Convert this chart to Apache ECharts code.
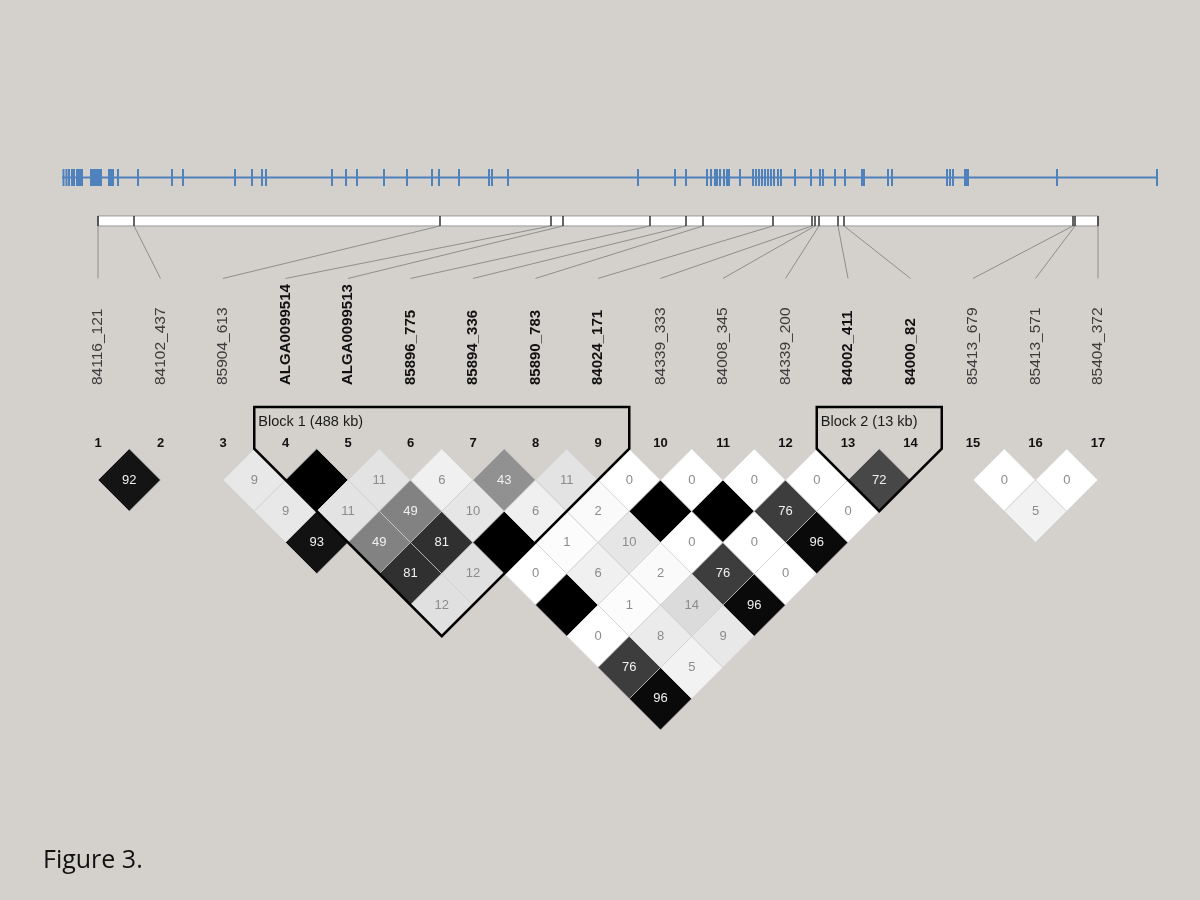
<!DOCTYPE html>
<html>
<head>
<meta charset="utf-8">
<script src="https://cdn.jsdelivr.net/npm/echarts@6/dist/echarts.min.js"></script>
<style>
html,body{margin:0;padding:0;background:#d4d1cc;}
#chart{width:1200px;height:900px;}
</style>
</head>
<body>
<div id="chart"></div>
<script>
// ---------- DATA ----------
// genomic track: relative positions of all SNPs along the region (0 .. trackEnd)
const trackStart = 0;
const trackEnd = 1096;
const trackPos = [1.5,4.5,7,10,12,15,17,18.5,20,29,31,33,35,37,39,47,49,51,56,76,110,121,173,190,200,204,
  270,284,295,322,345,370,377,397,427,430,446,576,613,624,645,649,653,655,658,662,665,667,678,
  691,694,697,700,703,706,709,712,716,719,733,749,758,761,773,783,800,802,826,830,885,888,891,903,904,906,995,1095];
const trackHighlight = [641];

// markers
const markerNames = ['84116_121','84102_437','85904_613','ALGA0099514','ALGA0099513','85896_775','85894_336',
  '85890_783','84024_171','84339_333','84008_345','84339_200','84002_411','84000_82','85413_679','85413_571','85404_372'];
const markerInBlock = [0,0,0,1,1,1,1,1,1,0,0,0,1,1,0,0,0];
// relative physical position of each marker along the map bar (0 .. 1000)
const markerPhys = [0,36,342,453,465,552,588,605,675,714,717,721,740,746,975,977,1000];

// LD cells: [marker i, marker j, r2 x 100]  (100 = complete, no number shown)
const ldCells = [
  [1,2,92],
  [3,4,9],[3,5,9],[3,6,93],
  [4,5,100],[4,6,11],[4,7,49],[4,8,81],[4,9,12],
  [5,6,11],[5,7,49],[5,8,81],[5,9,12],
  [6,7,6],[6,8,10],[6,9,100],[6,10,0],[6,11,100],[6,12,0],[6,13,76],[6,14,96],
  [7,8,43],[7,9,6],[7,10,1],[7,11,6],[7,12,1],[7,13,8],[7,14,5],
  [8,9,11],[8,10,2],[8,11,10],[8,12,2],[8,13,14],[8,14,9],
  [9,10,0],[9,11,100],[9,12,0],[9,13,76],[9,14,96],
  [10,11,0],[10,12,100],[10,13,0],[10,14,0],
  [11,12,0],[11,13,76],[11,14,96],
  [12,13,0],[12,14,0],
  [13,14,72],
  [15,16,0],[15,17,5],[16,17,0]
];

// haplotype blocks
const blockStarts = [4,13];
const blockEnds = [9,14];
const blockLabels = ['Block 1 (488 kb)','Block 2 (13 kb)'];

const caption = 'Figure 3.';

// ---------- LAYOUT CONSTANTS (row units of LD grid) ----------
const BAR_TOP = -7.45, BAR_BOT = -7.13;
const CONN_END = -5.45;
const NAME_BASE = -2.04;
const NUM_ROW = -0.17;
const BLOCK_TOP = -1.336;
const BLOCK_LABEL_ROW = -0.86;

const nMarkers = markerNames.length;
const physToIdx = p => 1 + p * (nMarkers - 1) / 1000;

const chart = echarts.init(document.getElementById('chart'), null, {renderer:'canvas'});

const markerIdx = markerNames.map((_, k) => k + 1);

const option = {
  backgroundColor: '#d4d1cc',
  animation: false,
  title: {
    text: caption, left: 38, top: 843,
    textStyle: {fontFamily: 'Open Sans', fontSize: 25, fontWeight: 'normal', color: '#111'}
  },
  grid: [
    {left: 62, width: 1096, top: 170, height: 15},
    {left: 98, width: 1000, top: 198.75, height: 562.5}
  ],
  xAxis: [
    {gridIndex: 0, type: 'value', min: trackStart, max: trackEnd, show: false},
    {gridIndex: 1, type: 'value', min: 1, max: 17, show: false}
  ],
  yAxis: [
    {gridIndex: 0, type: 'value', min: 0, max: 1, show: false},
    {gridIndex: 1, type: 'value', min: -8, max: 10, inverse: true, show: false}
  ],
  series: [
    // genomic track baseline
    {
      type: 'line', xAxisIndex: 0, yAxisIndex: 0, silent: true, symbol: 'none',
      data: [[trackStart, 0.5], [trackEnd, 0.5]],
      lineStyle: {color: '#4f81bd', width: 2}
    },
    // track ticks
    {
      type: 'custom', xAxisIndex: 0, yAxisIndex: 0, silent: true,
      data: trackPos.map(p => [p, trackHighlight.indexOf(p) >= 0 ? 1 : 0]),
      renderItem: function (params, api) {
        const x = api.value(0);
        const hl = api.value(1);
        const a = api.coord([x, 0]), b = api.coord([x, 1]);
        return {type: 'line', shape: {x1: a[0], y1: a[1] + 1, x2: b[0], y2: b[1] - 1},
          style: {stroke: hl ? '#e3262d' : '#4f81bd', lineWidth: 2}};
      }
    },
    // map bar
    {
      type: 'custom', xAxisIndex: 1, yAxisIndex: 1, silent: true,
      data: [[1, BAR_TOP]],
      renderItem: function (params, api) {
        const a = api.coord([1, BAR_TOP]), b = api.coord([nMarkers, BAR_BOT]);
        return {type: 'rect', shape: {x: a[0], y: a[1], width: b[0] - a[0], height: b[1] - a[1]},
          style: {fill: '#ffffff', stroke: '#9a9a9a', lineWidth: 1}};
      }
    },
    // bar ticks + connectors
    {
      type: 'custom', xAxisIndex: 1, yAxisIndex: 1, silent: true,
      data: markerPhys.map((p, k) => [physToIdx(p), k + 1]),
      renderItem: function (params, api) {
        const px = api.value(0), k = api.value(1);
        const t1 = api.coord([px, BAR_TOP]), t2 = api.coord([px, BAR_BOT]);
        const c2 = api.coord([k, CONN_END]);
        return {type: 'group', children: [
          {type: 'line', shape: {x1: t2[0], y1: t2[1], x2: c2[0], y2: c2[1]},
            style: {stroke: '#8e8e8e', lineWidth: 1}},
          {type: 'line', shape: {x1: t1[0], y1: t1[1], x2: t2[0], y2: t2[1]},
            style: {stroke: '#333333', lineWidth: 1.5}}
        ]};
      }
    },
    // marker names
    {
      type: 'custom', xAxisIndex: 1, yAxisIndex: 1, silent: true,
      data: markerIdx.map(k => [k, NAME_BASE]),
      renderItem: function (params, api) {
        const k = api.value(0);
        const p = api.coord([k, NAME_BASE]);
        const bold = markerInBlock[k - 1] === 1;
        return {type: 'text', x: p[0], y: p[1], rotation: Math.PI / 2,
          style: {text: markerNames[k - 1], align: 'left', verticalAlign: 'middle',
            font: (bold ? 'bold 15px' : '15.5px') + ' "Liberation Sans", Arial, sans-serif',
            fill: bold ? '#111111' : '#3c3c3c'}};
      }
    },
    // marker numbers
    {
      type: 'custom', xAxisIndex: 1, yAxisIndex: 1, silent: true,
      data: markerIdx.map(k => [k, NUM_ROW]),
      renderItem: function (params, api) {
        const k = api.value(0);
        const p = api.coord([k, NUM_ROW]);
        return {type: 'text', x: p[0], y: p[1],
          style: {text: String(k), align: 'center', verticalAlign: 'middle',
            font: 'bold 13px "Liberation Sans", Arial, sans-serif', fill: '#111111'}};
      }
    },
    // LD diamonds
    {
      type: 'custom', xAxisIndex: 1, yAxisIndex: 1, silent: true,
      data: ldCells,
      renderItem: function (params, api) {
        const i = api.value(0), j = api.value(1), v = api.value(2);
        const c = (i + j) / 2, d = j - i;
        const pts = [[c - 0.5, d], [c, d - 1], [c + 0.5, d], [c, d + 1]].map(q => api.coord(q));
        const ctr = api.coord([c, d]);
        const g = Math.round(255 * (1 - v / 100));
        return {type: 'group', children: [
          {type: 'polygon', shape: {points: pts},
            style: {fill: 'rgb(' + g + ',' + g + ',' + g + ')', stroke: 'rgba(205,205,205,0.7)', lineWidth: 1}},
          {type: 'text', x: ctr[0], y: ctr[1],
            style: {text: v >= 100 ? '' : String(v), align: 'center', verticalAlign: 'middle',
              font: '13px "Liberation Sans", Arial, sans-serif',
              fill: v >= 40 ? '#f0f0f0' : '#8c8c8c'}}
        ]};
      }
    },
    // blocks
    {
      type: 'custom', xAxisIndex: 1, yAxisIndex: 1, silent: true,
      data: blockStarts.map((s, k) => [s, blockEnds[k], k]),
      renderItem: function (params, api) {
        const s = api.value(0), e = api.value(1), k = api.value(2);
        const pts = [[s - 0.5, BLOCK_TOP], [e + 0.5, BLOCK_TOP], [e + 0.5, 0],
          [(s + e) / 2, e - s + 1], [s - 0.5, 0]].map(q => api.coord(q));
        const lp = api.coord([s - 0.5, BLOCK_LABEL_ROW]);
        return {type: 'group', children: [
          {type: 'polygon', shape: {points: pts},
            style: {fill: 'none', stroke: '#000000', lineWidth: 2.5, lineJoin: 'miter'}},
          {type: 'text', x: lp[0] + 4, y: lp[1],
            style: {text: blockLabels[k], align: 'left', verticalAlign: 'middle',
              font: '14.5px "Liberation Sans", Arial, sans-serif', fill: '#1a1a1a'}}
        ]};
      }
    }
  ]
};
chart.setOption(option);
</script>
</body>
</html>
